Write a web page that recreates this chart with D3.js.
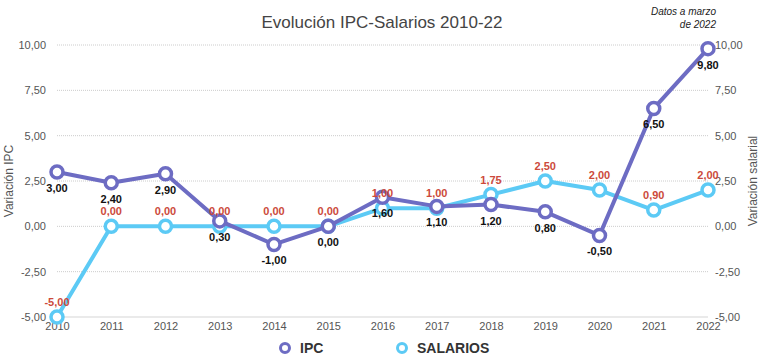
<!DOCTYPE html>
<html><head><meta charset="utf-8">
<script src="https://cdn.jsdelivr.net/npm/d3@7"></script>
<style>body{margin:0;background:#fff;font-family:"Liberation Sans",Arial,sans-serif;}</style>
</head><body><svg id="c" width="771" height="364"></svg>
<script>
const years = ["2010","2011","2012","2013","2014","2015","2016","2017","2018","2019","2020","2021","2022"];
const ipc = [3.00, 2.40, 2.90, 0.30, -1.00, 0.00, 1.60, 1.10, 1.20, 0.80, -0.50, 6.50, 9.80];
const salarios = [-5.00, 0.00, 0.00, 0.00, 0.00, 0.00, 1.00, 1.00, 1.75, 2.50, 2.00, 0.90, 2.00];
const yTicks = [-5, -2.5, 0, 2.5, 5, 7.5, 10];

const svg = d3.select("#c");
const fmt = v => d3.format(".2f")(v).replace(".", ",").replace("−","-");
const x = d3.scalePoint().domain(years).range([57, 708]);
const y = d3.scaleLinear().domain([-5, 10]).range([317, 45]);

// gridlines
svg.append("g").selectAll("line").data(yTicks.filter(d => d !== -5)).join("line")
  .attr("x1", 57).attr("x2", 708).attr("y1", d => y(d)).attr("y2", d => y(d))
  .attr("stroke", "#ccc").attr("stroke-width", 1).attr("stroke-dasharray", "1,1");
svg.append("line").attr("x1", 57).attr("x2", 708).attr("y1", y(-5)).attr("y2", y(-5))
  .attr("stroke", "#d5d5d5").attr("stroke-width", 1);

// left axis
const left = svg.append("g").attr("transform", "translate(46,0)")
  .call(d3.axisLeft(y).tickValues(yTicks).tickFormat(fmt).tickSize(0).tickPadding(0));
left.select(".domain").remove();
left.selectAll("text").attr("font-size", 11).attr("fill", "#555").attr("font-family", "Liberation Sans, Arial, sans-serif");
// right axis
const right = svg.append("g").attr("transform", "translate(715,0)")
  .call(d3.axisRight(y).tickValues(yTicks).tickFormat(fmt).tickSize(0).tickPadding(0));
right.select(".domain").remove();
right.selectAll("text").attr("font-size", 11).attr("fill", "#555").attr("font-family", "Liberation Sans, Arial, sans-serif");
// x axis
const bottom = svg.append("g").attr("transform", "translate(0,322)")
  .call(d3.axisBottom(x).tickSize(0).tickPadding(0));
bottom.select(".domain").remove();
bottom.selectAll("text").attr("font-size", 11).attr("fill", "#555").attr("dy", "0.71em").attr("font-family", "Liberation Sans, Arial, sans-serif");

// axis titles
svg.append("text").attr("transform", `translate(13,${y(2.5)}) rotate(-90)`).attr("text-anchor", "middle")
  .attr("font-size", 12).attr("fill", "#555").text("Variación IPC");
svg.append("text").attr("transform", `translate(757,${y(2.5)}) rotate(-90)`).attr("text-anchor", "middle")
  .attr("font-size", 12).attr("fill", "#555").text("Variación salarial");

// title
svg.append("text").attr("x", 382).attr("y", 28).attr("text-anchor", "middle")
  .attr("font-size", 17).attr("fill", "#444").text("Evolución IPC-Salarios 2010-22");
svg.append("text").attr("x", 716).attr("y", 15).attr("text-anchor", "end").attr("font-style", "italic")
  .attr("font-size", 10).attr("fill", "#222").text("Datos a marzo");
svg.append("text").attr("x", 716).attr("y", 28).attr("text-anchor", "end").attr("font-style", "italic")
  .attr("font-size", 10).attr("fill", "#222").text("de 2022");

const line = d3.line().x((d, i) => x(years[i])).y(d => y(d));
function series(data, color, labelColor, dy) {
  const g = svg.append("g");
  g.append("path").datum(data).attr("d", line).attr("fill", "none")
    .attr("stroke", color).attr("stroke-width", 4).attr("stroke-linejoin", "round");
  g.selectAll("circle").data(data).join("circle")
    .attr("cx", (d, i) => x(years[i])).attr("cy", d => y(d)).attr("r", 6)
    .attr("fill", "#fff").attr("stroke", color).attr("stroke-width", 3.5);
  return g;
}
const gs = series(salarios, "#5ccaf5");
const gi = series(ipc, "#6d6cc3");

// labels
svg.append("g").selectAll("text").data(salarios).join("text")
  .attr("x", (d, i) => x(years[i])).attr("y", d => y(d) - 11).attr("text-anchor", "middle")
  .attr("font-size", 11).attr("font-weight", "bold").attr("fill", "#cc4a3b").text(fmt);
svg.append("g").selectAll("text").data(ipc).join("text")
  .attr("x", (d, i) => x(years[i])).attr("y", d => y(d) + 20).attr("text-anchor", "middle")
  .attr("font-size", 11).attr("font-weight", "bold").attr("fill", "#111").text(fmt);

// legend
const legend = [["IPC", "#6d6cc3", 285], ["SALARIOS", "#5ccaf5", 402]];
legend.forEach(([name, color, lx]) => {
  svg.append("circle").attr("cx", lx).attr("cy", 348).attr("r", 4.5)
    .attr("fill", "#fff").attr("stroke", color).attr("stroke-width", 3);
  svg.append("text").attr("x", lx + 15).attr("y", 353).attr("font-size", 14).attr("font-weight", "bold")
    .attr("fill", "#333").text(name);
});
</script></body></html>
